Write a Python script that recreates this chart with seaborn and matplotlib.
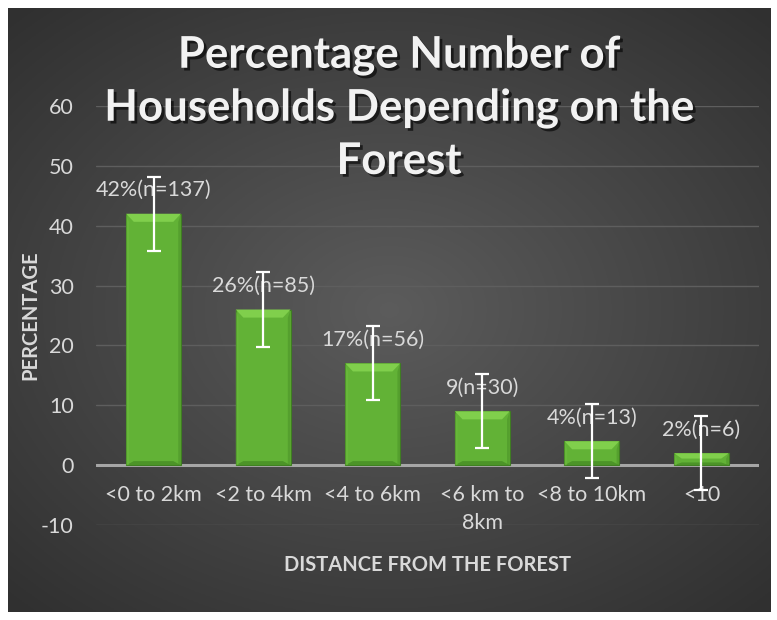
import numpy as np
import pandas as pds
import seaborn as sns
import matplotlib.pyplot as plt
import matplotlib.patheffects as path_effects
from matplotlib.patches import Polygon

categories = ["<0 to 2km", "<2 to 4km", "<4 to 6km", "<6 km to\n8km", "<8 to 10km", "<10"]
percentages = [42, 26, 17, 9, 4, 2]
error_size = [6.2, 6.2, 6.2, 6.2, 6.2, 6.2]
bar_labels = ["42%(n=137)", "26%(n=85)", "17%(n=56)", "9(n=30)", "4%(n=13)", "2%(n=6)"]
y_ticks = [-10, 0, 10, 20, 30, 40, 50, 60]

TEXT = '#d9d9d9'
FONT = 'Lato'

sns.set_theme(style="white")
plt.rcParams['font.family'] = [FONT, 'DejaVu Sans']
plt.rcParams['axes.unicode_minus'] = False

W, H = 777, 620
fig = plt.figure(figsize=(W / 100, H / 100), dpi=100, facecolor='white')

# dark radial gradient background
bg = fig.add_axes([8 / W, 8 / H, 762 / W, 604 / H])
yy, xx = np.mgrid[-1:1:300j, -1:1:380j]
r = np.sqrt((xx * 0.95) ** 2 + (yy * 1.0) ** 2)
shade = 0.36 - 0.17 * np.clip(r / 1.35, 0, 1)
bg.imshow(np.dstack([shade, shade, shade]), aspect='auto', extent=[0, 1, 0, 1])
bg.set_axis_off()

df = pds.DataFrame({"distance": categories, "pct": percentages})

ax = fig.add_axes([96 / W, 1 - 525 / H, (759 - 96) / W, (525 - 106) / H])
ax.patch.set_alpha(0)
sns.barplot(data=df, x="distance", y="pct", color='#62b236', width=0.5,
            errorbar=None, saturation=1, edgecolor='#3f7d22', linewidth=0.8,
            ax=ax, zorder=3)

ax.set_ylim(-10, 60)
ax.set_yticks(y_ticks)
ax.grid(axis='y', color='#5e5e5e', linewidth=1, zorder=0)
ax.axhline(0, color='#a6a6a6', linewidth=2.2, zorder=2)
for s in ax.spines.values():
    s.set_visible(False)
ax.tick_params(axis='both', length=0, colors=TEXT, labelsize=15.5)
ax.tick_params(axis='y', pad=16)
ax.set_xticklabels([])
ax.set_xlabel("")
ax.set_ylabel("")

# category labels sit just under the zero line, like the original
for x, c in zip(range(len(categories)), categories):
    ax.text(x, -3.3, c, ha='center', va='top', color=TEXT, fontsize=15.5,
            linespacing=1.5, zorder=5)

# bevel on each bar
for p in ax.patches:
    x0, w, h = p.get_x(), p.get_width(), p.get_height()
    dy = min(1.35, h * 0.45)
    dx = w * 0.14
    top = h
    ax.add_patch(Polygon([[x0, top], [x0 + w, top], [x0 + w - dx, top - dy], [x0 + dx, top - dy]],
                         closed=True, facecolor='#80cf4c', edgecolor='none', zorder=4))
    ax.add_patch(Polygon([[x0, 0], [x0 + w, 0], [x0 + w - dx, dy * 0.5], [x0 + dx, dy * 0.5]],
                         closed=True, facecolor='#4c9428', edgecolor='none', zorder=4))
    ax.add_patch(Polygon([[x0, top], [x0 + dx * 0.35, top - dy], [x0 + dx * 0.35, 0], [x0, 0]],
                         closed=True, facecolor='#6fbf3f', edgecolor='none', zorder=4, alpha=0.5))
    ax.add_patch(Polygon([[x0 + w, top], [x0 + w - dx * 0.35, top - dy], [x0 + w - dx * 0.35, 0], [x0 + w, 0]],
                         closed=True, facecolor='#4a8f28', edgecolor='none', zorder=4, alpha=0.5))

xs = np.arange(len(categories))
ax.errorbar(xs, percentages, yerr=error_size, fmt='none', ecolor='white',
            elinewidth=1.6, capsize=4.8, capthick=1.6, zorder=6)

for x, v, t in zip(xs, percentages, bar_labels):
    ax.annotate(t, (x, v), xytext=(0, 17), textcoords='offset points',
                ha='center', va='center', color=TEXT, fontsize=15.5, zorder=5)

shadow = [path_effects.withSimplePatchShadow(offset=(2, -2), shadow_rgbFace='black', alpha=0.6)]
title_lines = ["Percentage Number of", "Households Depending on the", "Forest"]
for i, line in enumerate(title_lines):
    fig.text(399 / W, 1 - (55 + 53 * i) / H, line, ha='center', va='center',
             color='#f2f2f2', fontsize=31.5, fontweight='bold', path_effects=shadow)

fig.text(30 / W, 1 - 315 / H, "PERCENTAGE", rotation=90, ha='center', va='center',
         color=TEXT, fontsize=14.5, fontweight='bold')
fig.text(428 / W, 1 - 565 / H, "DISTANCE FROM THE FOREST", ha='center', va='center',
         color=TEXT, fontsize=14.5, fontweight='bold')

fig.savefig("out.png", dpi=100, facecolor='white')
